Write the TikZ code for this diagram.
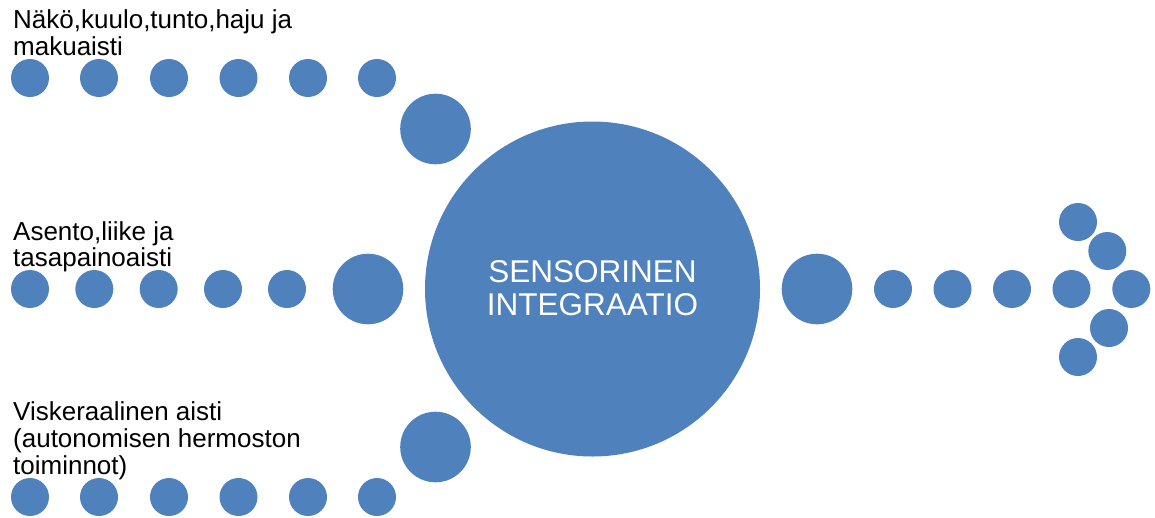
\documentclass[tikz,border=0pt]{standalone}
\usepackage{fontspec}
\setmainfont{Liberation Sans}
\usepackage{tikz}
\definecolor{smartblue}{HTML}{4F81BD}

\begin{document}
\begin{tikzpicture}[x=1pt,y=-1pt,
    dot/.style={fill=smartblue},
    sense/.style={anchor=base west,align=left,inner sep=0pt,
        font=\fontsize{26}{26.6}\selectfont}]
            \useasboundingbox (0,0) rectangle (1155,517);

            % top row
            \coordinate (t1) at (30,78);
            \coordinate (t2) at (99,78);
            \coordinate (t3) at (169,78);
            \coordinate (t4) at (238.5,78);
            \coordinate (t5) at (308,78);
            \coordinate (t6) at (377,78);
            \coordinate (tb) at (435.5,129);

            % middle row
            \coordinate (m1) at (30,289);
            \coordinate (m2) at (94.3,289);
            \coordinate (m3) at (158.7,289);
            \coordinate (m4) at (223,289);
            \coordinate (m5) at (287,289);
            \coordinate (mb) at (368,289);

            % bottom row
            \coordinate (b1) at (30,497);
            \coordinate (b2) at (99,497);
            \coordinate (b3) at (169,497);
            \coordinate (b4) at (238.5,497);
            \coordinate (b5) at (308,497);
            \coordinate (b6) at (377,497);
            \coordinate (bb) at (435.5,447);

            % centre and outgoing arrow
            \coordinate (c) at (592.5,289);
            \coordinate (rb) at (817,289);
            \coordinate (r1) at (893,289);
            \coordinate (r2) at (952.5,289);
            \coordinate (r3) at (1012,289);
            \coordinate (r4) at (1071.5,289);
            \coordinate (h1) at (1078,222);
            \coordinate (h2) at (1107.3,251);
            \coordinate (h3) at (1131.3,289);
            \coordinate (h4) at (1109,328);
            \coordinate (h5) at (1078,357);

            \fill[dot] (t1) circle (19pt);
            \fill[dot] (t2) circle (19pt);
            \fill[dot] (t3) circle (19pt);
            \fill[dot] (t4) circle (19pt);
            \fill[dot] (t5) circle (19pt);
            \fill[dot] (t6) circle (19pt);
            \fill[dot] (tb) circle (35.3pt);

            \fill[dot] (m1) circle (19pt);
            \fill[dot] (m2) circle (19pt);
            \fill[dot] (m3) circle (19pt);
            \fill[dot] (m4) circle (19pt);
            \fill[dot] (m5) circle (19pt);
            \fill[dot] (mb) circle (35.3pt);

            \fill[dot] (b1) circle (19pt);
            \fill[dot] (b2) circle (19pt);
            \fill[dot] (b3) circle (19pt);
            \fill[dot] (b4) circle (19pt);
            \fill[dot] (b5) circle (19pt);
            \fill[dot] (b6) circle (19pt);
            \fill[dot] (bb) circle (35.3pt);

            \fill[dot] (c) circle (167.5pt);

            \fill[dot] (rb) circle (35.3pt);
            \fill[dot] (r1) circle (19pt);
            \fill[dot] (r2) circle (19pt);
            \fill[dot] (r3) circle (19pt);
            \fill[dot] (r4) circle (19pt);
            \fill[dot] (h1) circle (19pt);
            \fill[dot] (h2) circle (19pt);
            \fill[dot] (h3) circle (19pt);
            \fill[dot] (h4) circle (19pt);
            \fill[dot] (h5) circle (19pt);

            % labels (base = last line)
            \node[sense] (ltop) at (13,55.5) {Näkö,kuulo,tunto,haju ja\\makuaisti};
            \node[sense] (lmid) at (13,266.7) {Asento,liike ja\\tasapainoaisti};
            \node[sense] (lbot) at (13,474) {Viskeraalinen aisti\\(autonomisen hermoston\\toiminnot)};

            \node[anchor=base,align=center,inner sep=0pt,text=white,
                font=\fontsize{31.5}{32.3}\selectfont] (lc) at (592.5,315) {SENSORINEN\\INTEGRAATIO};
        \end{tikzpicture}
\end{document}
